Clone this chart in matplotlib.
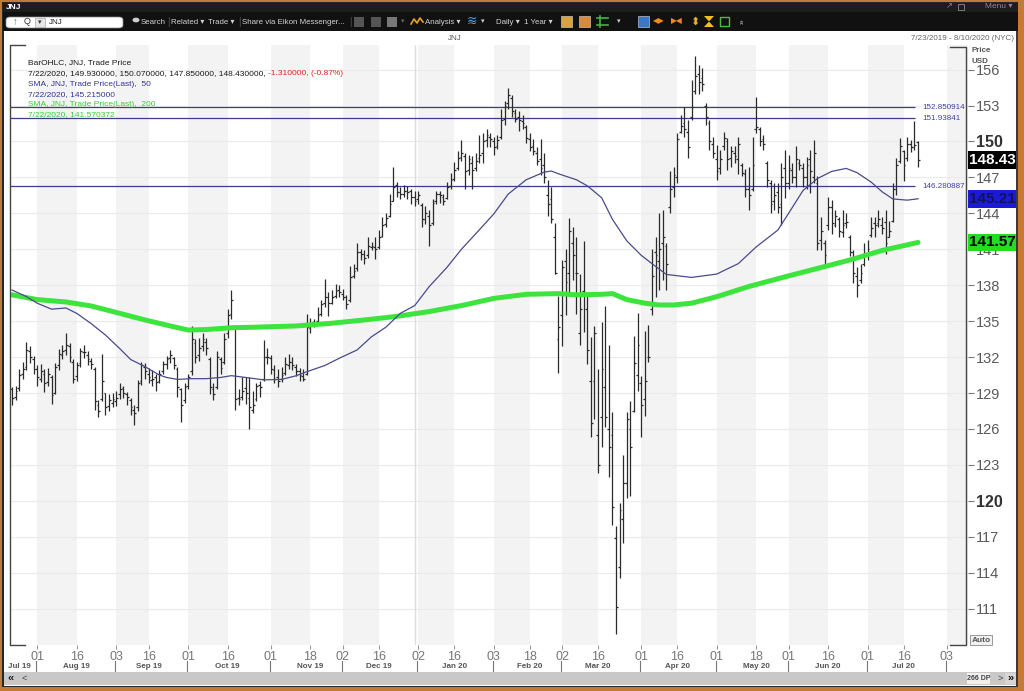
import numpy as np
import pandas as pd
import matplotlib
matplotlib.use("Agg")
import matplotlib.pyplot as plt
from matplotlib.patches import Rectangle, FancyBboxPatch, Polygon, Circle
from matplotlib.collections import LineCollection
from matplotlib.lines import Line2D
from matplotlib.transforms import blended_transform_factory

plt.rcParams['font.family'] = ['Liberation Sans', 'DejaVu Sans']

W, H = 1024, 691

# NYSE holidays inside the window
holidays = ['2019-09-02', '2019-11-28', '2019-12-25', '2020-01-01', '2020-01-20',
            '2020-02-17', '2020-04-10', '2020-05-25', '2020-07-03']

# daily OHLC, 7/23/2019 .. 7/22/2020
opens = [
    129.3, 128.7, 129.4, 130.6, 131.2, 132.5, 131.8, 131.0, 130.2, 130.6,
    129.9, 130.3, 129.0, 131.3, 132.2, 132.6, 132.9, 131.6, 130.4, 131.5,
    132.4, 132.2, 131.7, 131.0, 128.0, 128.5, 129.0, 127.9, 128.2, 128.3,
    128.9, 129.4, 128.9, 128.4, 127.6, 127.8, 130.0, 131.2, 130.6, 130.1,
    130.3, 130.0, 130.8, 131.4, 131.9, 131.9, 131.0, 129.3, 128.4, 129.6,
    130.8, 133.2, 132.2, 132.9, 133.3, 131.8, 129.3, 129.5, 131.8, 131.6,
    134.0, 135.6, 134.5, 128.6, 128.7, 129.4, 128.6, 127.6, 128.5, 129.7,
    130.2, 132.0, 131.9, 130.9, 130.3, 130.2, 130.7, 131.3, 131.6, 131.2,
    130.8, 130.4, 130.6, 134.4, 134.9, 135.0, 135.6, 136.5, 137.0, 136.5,
    137.1, 137.6, 137.3, 137.0, 136.8, 138.8, 139.4, 140.8, 140.6, 140.5,
    141.2, 141.2, 141.2, 142.1, 143.1, 143.8, 145.0, 146.4, 145.8, 145.6,
    145.9, 145.9, 145.4, 145.2, 144.7, 143.5, 143.8, 143.2, 145.0, 145.6,
    145.4, 145.3, 146.3, 146.9, 147.8, 148.7, 148.8, 147.6, 148.2, 147.8,
    148.6, 149.0, 150.1, 150.4, 150.0, 149.6, 150.4, 151.9, 153.2, 153.6,
    152.4, 152.0, 151.7, 151.2, 150.2, 149.6, 149.0, 148.5, 148.0, 145.5,
    145.2, 142.0, 133.5, 135.5, 140.0, 139.0, 141.5, 139.0, 134.0, 137.5,
    136.0, 130.0, 130.0, 125.5, 127.0, 129.5, 126.0, 125.5, 116.9, 114.5,
    118.5, 121.5, 126.0, 127.5, 130.5, 129.8, 128.5, 132.0, 136.0, 140.8,
    140.0, 141.5, 141.3, 144.5, 146.2, 147.0, 150.8, 151.5, 150.8, 152.0,
    154.2, 155.6, 155.3, 153.0, 151.5, 149.8, 148.5, 147.8, 149.6, 150.0,
    148.6, 149.0, 148.5, 148.0, 147.3, 146.0, 146.0, 151.0, 151.0, 150.2,
    148.2, 146.5, 145.0, 145.8, 144.8, 147.8, 146.5, 147.6, 147.0, 148.2,
    147.8, 147.0, 148.5, 147.0, 146.5, 141.8, 141.5, 143.0, 144.5, 143.0,
    143.5, 142.4, 143.2, 142.0, 140.8, 138.8, 138.4, 139.8, 140.6, 142.2,
    143.2, 143.2, 143.0, 143.3, 142.0, 143.4, 146.0, 148.4, 149.2, 148.6,
    149.8, 149.5, 149.93]
highs = [
    129.5, 129.6, 131.0, 131.6, 133.3, 132.9, 132.1, 131.3, 131.4, 131.0,
    131.1, 130.5, 131.5, 132.7, 133.0, 134.0, 133.2, 131.8, 131.6, 132.8,
    133.0, 132.5, 131.9, 131.2, 128.4, 132.3, 129.0, 128.9, 129.0, 129.2,
    129.8, 129.6, 129.1, 128.6, 128.0, 130.1, 131.6, 131.5, 131.1, 130.9,
    130.6, 130.9, 131.7, 132.1, 132.6, 132.0, 131.2, 129.4, 129.8, 130.6,
    134.6, 133.5, 133.6, 134.0, 133.6, 132.0, 129.8, 132.5, 132.0, 134.0,
    136.0, 137.6, 134.7, 129.3, 130.3, 130.3, 130.3, 129.2, 129.8, 130.0,
    133.4, 132.8, 132.2, 131.3, 131.0, 131.2, 132.0, 132.3, 132.0, 131.4,
    131.1, 131.0, 135.6, 135.3, 135.2, 136.2, 136.8, 138.5, 137.4, 137.6,
    138.1, 138.0, 137.7, 137.2, 139.6, 139.8, 141.5, 141.0, 140.9, 142.0,
    141.6, 142.0, 142.6, 143.7, 144.0, 145.6, 147.9, 146.6, 146.2, 146.4,
    146.3, 146.0, 145.9, 145.9, 144.9, 144.6, 144.3, 145.2, 145.9, 145.9,
    145.6, 146.6, 147.4, 148.3, 149.2, 150.1, 149.0, 148.9, 148.8, 149.0,
    150.5, 150.7, 151.0, 150.7, 150.4, 150.5, 152.7, 153.4, 154.5, 153.9,
    152.7, 152.5, 152.2, 151.4, 150.7, 150.2, 149.5, 150.2, 149.0, 146.8,
    146.2, 143.2, 137.1, 140.1, 141.0, 143.6, 142.9, 142.0, 138.9, 141.7,
    137.2, 133.7, 134.6, 131.0, 134.9, 136.3, 133.0, 127.4, 117.9, 119.8,
    123.8, 127.4, 128.3, 133.8, 135.7, 130.4, 134.2, 134.7, 141.0, 142.0,
    144.0, 144.3, 141.5, 147.5, 147.9, 150.7, 152.2, 152.9, 151.8, 155.1,
    157.1, 156.4, 156.1, 153.2, 151.8, 150.4, 149.7, 149.3, 150.8, 150.3,
    149.6, 149.6, 150.4, 148.2, 147.7, 147.9, 150.4, 153.7, 151.2, 150.5,
    148.4, 146.8, 146.5, 146.5, 148.2, 149.3, 148.9, 148.2, 149.6, 148.5,
    148.2, 148.7, 149.3, 150.1, 147.1, 143.7, 141.8, 145.4, 145.1, 144.3,
    143.7, 144.3, 144.0, 142.2, 140.9, 139.5, 139.8, 141.5, 141.8, 143.7,
    143.7, 144.3, 143.7, 144.3, 143.4, 146.5, 148.6, 150.3, 149.3, 150.4,
    150.1, 151.7, 150.07]
lows = [
    128.0, 128.4, 129.2, 130.2, 130.9, 131.5, 130.6, 129.6, 129.9, 129.1,
    129.6, 128.1, 128.9, 130.9, 131.8, 132.2, 131.6, 129.8, 130.0, 131.2,
    131.9, 131.3, 131.0, 127.6, 127.0, 128.3, 127.2, 127.5, 127.8, 127.9,
    128.5, 128.6, 128.0, 127.2, 126.3, 127.5, 129.7, 130.2, 129.8, 129.6,
    129.2, 129.8, 130.6, 131.0, 131.5, 131.0, 128.7, 126.6, 128.2, 129.3,
    130.5, 131.5, 131.7, 132.5, 132.2, 128.9, 128.4, 129.3, 130.6, 131.4,
    133.6, 135.2, 127.6, 128.0, 128.4, 128.1, 126.0, 127.3, 128.3, 128.7,
    130.0, 131.4, 130.6, 129.8, 129.5, 129.9, 130.5, 131.0, 130.9, 130.4,
    130.0, 130.0, 130.5, 134.0, 134.5, 134.7, 135.4, 136.2, 135.4, 136.4,
    136.9, 137.0, 136.8, 136.0, 136.6, 138.6, 139.2, 140.1, 139.8, 140.3,
    140.9, 140.2, 141.0, 142.0, 142.9, 143.7, 145.0, 145.4, 145.2, 145.4,
    145.2, 144.8, 144.6, 144.8, 142.9, 143.1, 141.3, 143.0, 144.8, 144.9,
    144.7, 145.2, 146.0, 146.7, 147.6, 148.4, 146.0, 147.2, 146.0, 147.5,
    148.2, 148.2, 149.5, 149.5, 148.9, 149.4, 150.2, 151.4, 152.7, 152.0,
    151.6, 150.9, 151.0, 149.9, 149.2, 148.9, 148.0, 147.2, 146.5, 143.8,
    143.2, 138.9, 130.7, 132.9, 135.5, 137.1, 138.4, 135.6, 133.0, 134.1,
    131.4, 125.3, 126.8, 122.3, 124.5, 126.2, 122.0, 118.0, 108.9, 113.6,
    116.5, 120.2, 120.4, 127.4, 129.2, 125.3, 127.1, 131.6, 135.5, 137.0,
    137.6, 138.4, 137.6, 144.0, 145.4, 146.5, 150.7, 150.4, 148.6, 151.8,
    154.0, 154.0, 154.2, 151.4, 149.3, 148.6, 146.8, 147.3, 149.3, 147.6,
    147.9, 148.2, 147.3, 147.1, 145.4, 144.3, 145.9, 150.7, 149.6, 149.3,
    146.2, 144.0, 144.3, 144.0, 143.0, 145.3, 146.0, 146.5, 146.2, 147.6,
    146.2, 146.0, 145.7, 146.5, 140.9, 140.9, 139.8, 142.6, 142.3, 142.9,
    142.0, 142.0, 142.8, 140.4, 138.2, 137.0, 138.2, 139.6, 140.1, 142.0,
    142.0, 142.9, 142.3, 140.6, 142.0, 143.3, 145.5, 148.2, 146.7, 148.4,
    149.1, 149.3, 147.85]
closes = [
    128.6, 129.2, 130.5, 131.0, 132.6, 132.0, 131.0, 130.3, 130.8, 129.8,
    130.6, 128.8, 131.2, 132.3, 132.5, 133.0, 132.0, 130.2, 131.3, 132.5,
    132.4, 131.8, 131.4, 128.3, 127.5, 130.0, 127.8, 128.4, 128.5, 128.6,
    129.3, 129.0, 128.7, 127.8, 127.3, 129.8, 131.3, 130.8, 130.3, 130.2,
    129.9, 130.6, 131.4, 131.8, 132.2, 131.3, 129.5, 128.0, 129.5, 130.3,
    133.5, 132.0, 132.8, 133.5, 132.8, 129.5, 128.9, 132.0, 131.1, 133.5,
    135.5, 136.8, 128.5, 128.5, 129.2, 129.0, 127.8, 128.0, 129.6, 129.5,
    132.0, 132.0, 131.0, 130.2, 130.0, 130.5, 131.4, 131.6, 131.3, 130.8,
    130.5, 130.2, 134.5, 134.8, 134.8, 135.5, 136.4, 137.0, 136.5, 137.0,
    137.5, 137.4, 137.0, 136.4, 138.7, 139.2, 140.8, 140.6, 140.3, 141.3,
    141.3, 141.0, 142.0, 143.0, 143.6, 144.8, 146.2, 145.8, 145.6, 145.9,
    145.8, 145.4, 145.0, 145.5, 143.5, 144.0, 143.0, 144.9, 145.6, 145.5,
    145.0, 146.2, 146.8, 147.6, 148.6, 149.0, 147.5, 148.5, 147.6, 148.4,
    148.9, 150.0, 150.5, 150.2, 149.5, 150.1, 151.8, 153.0, 153.9, 152.5,
    151.9, 151.8, 151.5, 150.3, 149.5, 149.2, 148.4, 147.8, 147.0, 144.8,
    143.5, 139.0, 134.5, 139.5, 138.3, 142.5, 140.5, 139.0, 136.0, 137.4,
    132.6, 126.5, 134.0, 123.0, 131.0, 127.0, 124.5, 119.5, 111.1, 119.2,
    121.5, 126.8, 124.5, 131.5, 133.0, 128.0, 130.0, 132.0, 138.8, 140.5,
    141.0, 142.0, 139.8, 146.0, 147.2, 150.2, 151.3, 151.0, 149.5, 152.9,
    155.5, 155.0, 154.8, 152.0, 150.0, 149.0, 147.5, 148.5, 150.3, 148.5,
    149.2, 148.8, 149.8, 147.4, 146.0, 145.5, 148.0, 151.2, 150.0, 149.8,
    146.8, 144.8, 145.5, 144.5, 147.0, 146.5, 147.8, 147.0, 148.5, 148.0,
    147.0, 148.0, 147.5, 149.0, 141.5, 142.5, 140.5, 144.5, 143.2, 143.8,
    142.5, 143.0, 143.3, 140.8, 139.0, 138.0, 139.0, 140.5, 141.0, 142.8,
    143.0, 143.5, 142.8, 141.5, 142.5, 146.0, 148.0, 149.6, 148.0, 149.8,
    149.5, 149.74, 148.43]

# moving averages read at sample days (trading-day number)
sma50_x = [0, 4, 7, 11, 15, 18, 22, 26, 30, 33, 37, 41, 43, 46, 50, 54, 58, 61, 65, 70,
           75, 79, 82, 87, 91, 96, 100, 104, 108, 112, 116, 121, 125, 129, 134, 138, 143,
           148, 150, 152, 157, 160, 164, 167, 171, 175, 178, 182, 189, 196, 202, 207, 213,
           216, 220, 224, 228, 232, 235, 239, 242, 245, 249, 252]
sma50_y = [137.6, 137.05, 136.5, 136.0, 136.1, 135.65, 134.8, 133.84, 132.7, 131.8, 131.2,
           130.5, 130.3, 130.14, 130.2, 130.2, 130.3, 130.45, 130.3, 130.1, 130.14, 130.44,
           130.78, 131.3, 131.9, 132.6, 133.7, 134.5, 135.65, 136.3, 137.87, 139.5, 141.0,
           142.3, 143.95, 145.6, 146.8, 147.44, 147.53, 147.3, 146.8, 146.3, 145.3, 143.5,
           141.7, 140.5, 139.8, 138.9, 138.65, 138.93, 139.8, 141.2, 142.6, 144.0, 145.9,
           146.9, 147.5, 147.75, 147.4, 146.6, 145.8, 145.2, 145.1, 145.215]
sma200_x = [0, 7, 15, 22, 30, 37, 44, 49, 54, 61, 68, 79, 88, 98, 107, 116, 125, 134, 143,
            152, 157, 164, 167, 171, 176, 180, 184, 189, 196, 205, 215, 224, 233, 242, 252]
sma200_y = [137.2, 136.8, 136.6, 136.27, 135.65, 135.1, 134.6, 134.26, 134.3, 134.45, 134.5,
            134.6, 134.8, 135.1, 135.4, 135.8, 136.3, 136.9, 137.24, 137.3, 137.2, 137.24,
            137.3, 136.8, 136.5, 136.35, 136.35, 136.5, 137.04, 137.9, 138.7, 139.4, 140.1,
            140.9, 141.57]

levels = [152.850914, 151.93841, 146.280887]
level_labels = ['152.850914', '151.93841', '146.280887']

y_ticks = [111, 114, 117, 120, 123, 126, 129, 132, 135, 138, 141, 144, 147, 150, 153, 156]
day_ticks = ['2019-08-01', '2019-08-16', '2019-09-03', '2019-09-16', '2019-10-01', '2019-10-16',
             '2019-11-01', '2019-11-18', '2019-12-02', '2019-12-16', '2020-01-02', '2020-01-16',
             '2020-02-03', '2020-02-18', '2020-03-02', '2020-03-16', '2020-04-01', '2020-04-16',
             '2020-05-01', '2020-05-18', '2020-06-01', '2020-06-16', '2020-07-01', '2020-07-16',
             '2020-08-03']
month_labels = ['Jul 19', 'Aug 19', 'Sep 19', 'Oct 19', 'Nov 19', 'Dec 19', 'Jan 20',
                'Feb 20', 'Mar 20', 'Apr 20', 'May 20', 'Jun 20', 'Jul 20']
month_label_days = ['2019-07-25', '2019-08-16', '2019-09-16', '2019-10-16', '2019-11-18',
                    '2019-12-16', '2020-01-16', '2020-02-18', '2020-03-16', '2020-04-16',
                    '2020-05-18', '2020-06-16', '2020-07-16']

dates = pd.bdate_range('2019-07-23', '2020-08-10')
dates = dates[~dates.isin(pd.to_datetime(holidays))]
n = len(closes)


def di(d):
    return dates.get_loc(pd.Timestamp(d))


fig = plt.figure(figsize=(W / 100, H / 100), dpi=100)
fig.patch.set_facecolor('#c47a34')


def fx(x):
    return x / W


def fy(y):
    return 1 - y / H


def box(x0, y0, x1, y1, fc, ec='none', lw=0, z=-5):
    r = Rectangle((fx(x0), fy(y1)), (x1 - x0) / W, (y1 - y0) / H, transform=fig.transFigure,
                  fc=fc, ec=ec, lw=lw, zorder=z)
    fig.add_artist(r)
    return r


def txt(x, y, s, **kw):
    kw.setdefault('fontsize', 6)
    kw.setdefault('va', 'center')
    return fig.text(fx(x), fy(y), s, **kw)


def fline(xs, ys, **kw):
    fig.add_artist(Line2D([fx(v) for v in xs], [fy(v) for v in ys], transform=fig.transFigure, **kw))


# window frame
box(2, 2, 1019, 688, '#262626', z=-6)
box(3, 3, 1018, 12, '#1d1d1d')
box(3, 12, 1018, 31, '#111111')
box(4, 31, 1017, 686, 'white')

# ---- chart ----
ax = fig.add_axes([fx(10), fy(645), 958 / W, 600 / H])
ax.set_facecolor('white')
ax.set_xlim(-0.56, 265.9)
ax.set_ylim(107.97, 158.05)
for s in ax.spines.values():
    s.set_visible(False)

for a, b in zip(day_ticks[0::2], day_ticks[1::2]):
    ax.axvspan(di(a), di(b), color='#f3f3f3', lw=0, zorder=0)
ax.axvspan(di(day_ticks[-1]), 265.9, color='#f3f3f3', lw=0, zorder=0)
for v in y_ticks:
    ax.axhline(v, color='#ebebeb', lw=0.8, zorder=0.5)
ax.axvline(di('2020-01-02') - 1, color='#dedede', lw=1, zorder=0.6)

segs = []
for i in range(n):
    segs.append([(i, lows[i]), (i, highs[i])])
    segs.append([(i - 0.5, opens[i]), (i, opens[i])])
    segs.append([(i, closes[i]), (i + 0.5, closes[i])])
ax.add_collection(LineCollection(segs, colors='#2a2a2a', linewidths=0.9, zorder=3))

ax.hlines(levels, -0.56, n - 1.8, colors='#3d3d8a', lw=0.9, zorder=2)
for lv, lb in zip(levels, level_labels):
    ax.text(n + 0.1, lv, lb, fontsize=5.8, color='#4040a0', va='center', ha='left')

ax.plot(sma200_x, sma200_y, color='#3de43d', lw=3.6, solid_capstyle='round', zorder=4)
ax.plot(sma50_x, sma50_y, color='#4a4a8c', lw=0.9, zorder=4)

ax.yaxis.tick_right()
ax.set_yticks(y_ticks)
ax.set_yticklabels([str(v) for v in y_ticks])
ax.tick_params(axis='y', direction='out', length=4, width=0.8, colors='#777',
               labelcolor='#5a5a5a', labelsize=10.5, pad=2)
for lab in ax.get_yticklabels():
    if lab.get_text() in ('150', '120'):
        lab.set_fontweight('bold')
        lab.set_color('#333333')
        lab.set_fontsize(11.5)

ax.set_xticks([di(d) for d in day_ticks])
ax.set_xticklabels([pd.Timestamp(d).strftime('%d') for d in day_ticks])
ax.tick_params(axis='x', direction='out', length=3, width=0.8, colors='#999',
               labelcolor='#777', labelsize=9, pad=1.5)

tr = blended_transform_factory(ax.transData, ax.transAxes)
for d, lab in zip(month_label_days, month_labels):
    ax.text(di(d), -0.035, lab, transform=tr, ha='center', va='center', fontsize=5.8,
            fontweight='bold', color='#555')
# month separators
for d in day_ticks[0::2]:
    ax.plot([di(d) - 0.3, di(d) - 0.3], [-0.027, -0.044], transform=tr, color='#777',
            lw=0.8, clip_on=False)

# value tags on the price axis
trb = blended_transform_factory(fig.transFigure, ax.transData)
tags = [(148.43, '148.430', 'black', 'white'),
        (145.215, '145.2150', '#1a1ad8', '#12125a'),
        (141.570372, '141.57037', '#22dd22', 'black')]
for val, s, fc, tc in tags:
    ax.text(fx(969.5), val, s, transform=trb, ha='left', va='center', fontsize=11,
            fontweight='bold', color=tc, clip_on=False, zorder=6,
            bbox=dict(boxstyle='square,pad=0.12', fc=fc, ec='none'))

# axis brackets
fline([25, 10, 10, 25], [45, 45, 645, 645], color='#444', lw=1, zorder=5)
fline([950, 966, 966, 950], [47, 47, 645, 645], color='#444', lw=1, zorder=5)

# legend block
lx = 28
lf = 6
txt(lx, 63, 'BarOHLC, JNJ, Trade Price', fontsize=lf, color='#1a1a1a')
t2 = txt(lx, 73.5, '7/22/2020, 149.930000, 150.070000, 147.850000, 148.430000, ', fontsize=lf,
         color='#1a1a1a')
fig.canvas.draw()
bb = t2.get_window_extent(renderer=fig.canvas.get_renderer())
fig.text(bb.x1 / W, fy(73.5), '-1.310000, (-0.87%)', fontsize=lf, color='#dd2222', va='center')
txt(lx, 84, 'SMA, JNJ, Trade Price(Last),  50', fontsize=lf, color='#33339a')
txt(lx, 94.5, '7/22/2020, 145.215000', fontsize=lf, color='#33339a')
txt(lx, 104.5, 'SMA, JNJ, Trade Price(Last),  200', fontsize=lf, color='#36cc36')
txt(lx, 114.5, '7/22/2020, 141.570372', fontsize=lf, color='#36cc36')

txt(455, 39, 'JNJ', fontsize=5.8, color='#555', ha='center')
txt(1014, 38, '7/23/2019 - 8/10/2020 (NYC)', fontsize=5.8, color='#666', ha='right')
txt(972, 51, 'Price', fontsize=5.8, color='#555', fontweight='bold')
txt(972, 61.5, 'USD', fontsize=5.8, color='#555', fontweight='bold')

box(970, 635, 992, 645, '#f0f0f0', ec='#8a8a8a', lw=0.6, z=5)
txt(981, 640, 'Auto', ha='center', fontsize=6, fontweight='bold', color='#555', zorder=6)

# scroll bar
box(4, 672, 1017, 685, '#c8c8c8', z=-4)
txt(8, 678.5, '«', fontsize=8, fontweight='bold', color='#222')
txt(22, 678, '<', fontsize=6.5, color='#444')
box(967, 673, 990, 684, '#efefef', z=-3)
txt(978.5, 678.5, '266 DP', ha='center', fontsize=5, fontweight='bold', color='#444')
txt(1000, 678, '>', ha='center', fontsize=6.5, color='#444')
box(1005, 673, 1016, 684, '#d6d6d6', z=-3)
txt(1010.5, 678.5, '»', ha='center', fontsize=8, fontweight='bold', color='#111')

# title bar and toolbar
txt(6, 7.5, 'JNJ', fontsize=6, fontweight='bold', color='white')
txt(985, 7, 'Menu ▾', fontsize=6, color='#8a8a8a')
box(958, 4, 964, 10, 'none', ec='#8a8a8a', lw=0.6, z=1)
txt(946, 7, '↗', fontsize=6, color='#8a8a8a')
fig.add_artist(FancyBboxPatch((fx(6), fy(28)), 117 / W, 11 / H,
                              boxstyle='round,pad=0,rounding_size=0.004',
                              transform=fig.transFigure, fc='white', ec='#888', lw=0.5, zorder=1))
txt(13, 22, '↑', fontsize=7, fontweight='bold', color='#2a9d2a', zorder=2)
txt(24, 22, 'Q', fontsize=6.5, color='#333', zorder=2)
box(35, 18, 45, 27, '#e6e6e6', ec='#999', lw=0.4, z=2)
txt(40, 22.5, '▾', fontsize=5, color='#333', ha='center', zorder=3)
txt(49, 22, 'JNJ', fontsize=5.8, color='#222', zorder=2)

tb = '#d2d2d2'
tf = 5.7
fig.add_artist(Circle((fx(136), fy(20)), 3.5 / W, transform=fig.transFigure,
                      fc='#cfcfcf', ec='none', zorder=1))
txt(141, 22, 'Search', fontsize=tf, color=tb)
txt(167, 22, '|', fontsize=7, color='#555')
txt(171, 22, 'Related ▾', fontsize=tf, color=tb)
txt(208, 22, 'Trade ▾', fontsize=tf, color=tb)
txt(238, 22, '|', fontsize=7, color='#555')
txt(242, 22, 'Share via Eikon Messenger...', fontsize=tf, color=tb)
txt(349, 22, '|', fontsize=7, color='#555')
for xi, c in [(354, '#555'), (371, '#555'), (387, '#777')]:
    box(xi, 17, xi + 10, 27, c, z=1)
txt(401, 22, '▾', fontsize=5, color='#666')
fline([411, 414, 417, 420, 423], [24, 19, 23, 18, 22], color='#f0a020', lw=1.2, zorder=2)
txt(425, 22, 'Analysis ▾', fontsize=tf, color=tb)
txt(467, 21.5, '≋', fontsize=9, color='#4aa0e8')
txt(481, 22, '▾', fontsize=5, color=tb)
txt(496, 22, 'Daily ▾', fontsize=tf, color=tb)
txt(524, 22, '1 Year ▾', fontsize=tf, color=tb)
icons = [(561, '#d9a23a'), (579, '#d68a3a'), (638, '#3a78c8')]
for xi, c in icons:
    box(xi, 16, xi + 11, 27, c, ec='#ddd', lw=0.4, z=1)
fline([597, 608], [18, 18], color='#3cb83c', lw=1.2, zorder=2)
fline([597, 608], [25, 25], color='#3cb83c', lw=1.2, zorder=2)
fline([600, 600], [16, 27], color='#3cb83c', lw=1.2, zorder=2)
txt(617, 22, '▾', fontsize=5, color=tb)
txt(653, 22, '◀▶', fontsize=5.5, color='#f08a20')
txt(671, 22, '▶◀', fontsize=5.5, color='#f08a20')
txt(690, 21.5, '⬍', fontsize=8, color='#f0b020')
# hourglass icon
fig.add_artist(Polygon([(fx(704), fy(16)), (fx(714), fy(16)), (fx(704), fy(27)), (fx(714), fy(27))],
                       closed=True, transform=fig.transFigure, fc='#f0c020', ec='none', zorder=2))
box(720, 17, 729, 26, 'none', ec='#44c044', lw=1, z=1)
txt(740, 22, '»', fontsize=6, color=tb, rotation=90)

# right and bottom border over clipped tags
box(1016, 31, 1018, 688, '#3a3a3a', z=10)
box(1018, 0, 1024, 691, '#c47a34', z=10)
box(0, 687, 1024, 691, '#c47a34', z=10)

fig.savefig('out.png', dpi=100)
